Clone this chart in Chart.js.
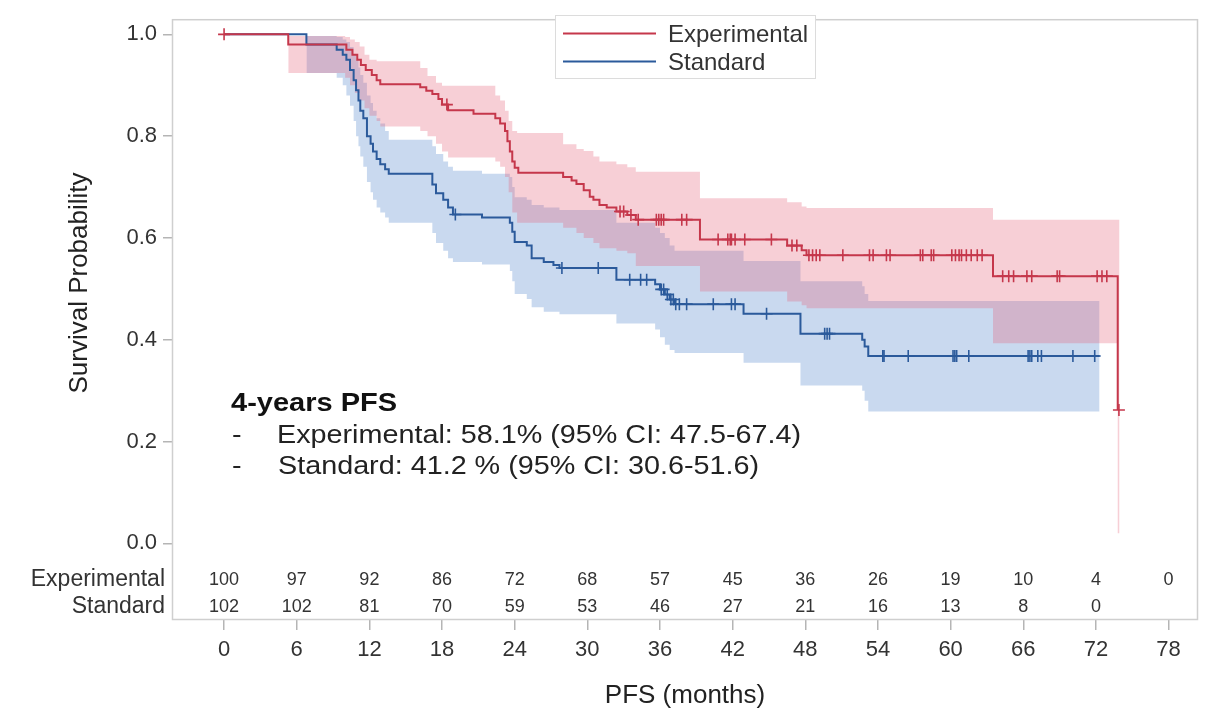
<!DOCTYPE html>
<html>
<head>
<meta charset="utf-8">
<script src="https://cdn.jsdelivr.net/npm/chart.js@4"></script>
<style>
  html, body { margin: 0; padding: 0; background: #ffffff; }
  #c { display: block; }
</style>
</head>
<body>
<canvas id="c" width="1215" height="711"></canvas>
<script>
// ---------------- DATA ----------------
const xTickValues = [0, 6, 12, 18, 24, 30, 36, 42, 48, 54, 60, 66, 72, 78];
const yTickValues = [0, 0.2, 0.4, 0.6, 0.8, 1.0];

// Experimental arm: Kaplan-Meier step function (time in months, survival after event)
const expTimes = [0, 5.3, 10.1, 10.6, 11.0, 11.3, 11.7, 12.2, 12.6, 12.9, 16.2, 16.7, 17.2, 17.7, 18.0, 18.5, 20.6, 22.4, 22.8, 23.2, 23.4, 23.6, 23.8, 24.0, 24.3, 28.0, 28.7, 29.1, 29.7, 30.2, 30.5, 31.0, 31.6, 32.4, 33.3, 34.0, 39.3, 46.5, 47.7, 48.1, 63.5, 73.8];
const expSurv  = [1.0, 0.98, 0.97, 0.96, 0.95, 0.94, 0.93, 0.92, 0.91, 0.902, 0.896, 0.889, 0.883, 0.873, 0.862, 0.851, 0.844, 0.835, 0.825, 0.81, 0.79, 0.77, 0.75, 0.738, 0.728, 0.72, 0.713, 0.706, 0.694, 0.681, 0.675, 0.665, 0.66, 0.652, 0.645, 0.636, 0.597, 0.585, 0.576, 0.566, 0.525, 0.262];
const expCensor = [0, 18.4, 32.7, 33.0, 33.6, 34.2, 35.7, 35.9, 36.1, 36.3, 37.8, 38.2, 40.8, 41.6, 41.8, 41.9, 42.2, 43.0, 45.2, 46.9, 47.3, 48.3, 48.6, 48.9, 49.2, 51.1, 53.3, 53.6, 54.7, 55.0, 57.5, 57.7, 58.4, 58.6, 60.1, 60.4, 60.7, 60.9, 61.3, 61.7, 62.2, 62.6, 64.3, 64.8, 65.2, 66.3, 66.7, 68.8, 69.0, 72.1, 72.5, 72.9, 73.9];

// Experimental 95% CI band (value holds from each time to the next)
const expBandTimes = [5.3, 10.0, 10.4, 10.8, 11.2, 11.6, 12.0, 12.6, 12.9, 16.2, 16.8, 17.5, 18.0, 18.5, 22.4, 22.8, 23.2, 23.5, 23.8, 24.2, 28.0, 29.1, 29.7, 30.5, 31.0, 32.4, 33.3, 34.0, 39.3, 46.5, 47.7, 48.1, 63.5, 73.8, 73.95];
const expLower     = [0.924, 0.915, 0.90, 0.885, 0.87, 0.855, 0.84, 0.83, 0.819, 0.81, 0.80, 0.785, 0.77, 0.758, 0.75, 0.74, 0.72, 0.69, 0.65, 0.63, 0.62, 0.61, 0.60, 0.59, 0.58, 0.575, 0.57, 0.545, 0.495, 0.475, 0.468, 0.462, 0.393, 0.02, 0.02];
const expUpper     = [0.997, 0.995, 0.99, 0.985, 0.976, 0.96, 0.95, 0.947, 0.947, 0.934, 0.918, 0.905, 0.899, 0.899, 0.88, 0.87, 0.85, 0.83, 0.81, 0.806, 0.784, 0.775, 0.771, 0.76, 0.75, 0.745, 0.739, 0.73, 0.678, 0.67, 0.662, 0.659, 0.636, 0.636, 0.636];

// Standard arm
const stdTimes = [0, 6.8, 9.3, 9.8, 10.1, 10.4, 10.7, 10.9, 11.1, 11.25, 11.5, 11.8, 12.1, 12.3, 12.6, 12.9, 13.3, 13.6, 17.2, 17.5, 18.1, 18.5, 18.9, 21.3, 23.6, 23.8, 24.0, 25.0, 25.4, 26.4, 27.2, 27.7, 32.4, 35.6, 36.0, 36.4, 36.8, 37.2, 42.9, 47.6, 52.7, 52.9, 53.2, 72.3];
const stdSurv  = [1.0, 0.98, 0.97, 0.96, 0.95, 0.93, 0.91, 0.89, 0.87, 0.85, 0.835, 0.80, 0.785, 0.77, 0.755, 0.745, 0.735, 0.726, 0.705, 0.688, 0.675, 0.66, 0.646, 0.64, 0.63, 0.612, 0.592, 0.585, 0.56, 0.553, 0.547, 0.541, 0.518, 0.509, 0.499, 0.489, 0.479, 0.470, 0.451, 0.412, 0.40, 0.387, 0.368, 0.368];
const stdCensor = [19.1, 27.9, 30.9, 33.5, 34.4, 34.9, 36.1, 36.3, 36.6, 36.9, 37.1, 37.3, 37.6, 38.2, 40.4, 41.9, 42.2, 44.8, 49.6, 49.8, 50.0, 54.4, 54.5, 56.5, 60.2, 60.35, 60.5, 61.5, 66.4, 66.55, 66.7, 67.2, 67.5, 70.1, 71.9];

const stdBandTimes = [6.8, 9.3, 9.8, 10.1, 10.4, 10.7, 10.9, 11.1, 11.25, 11.5, 11.8, 12.1, 12.3, 12.6, 12.9, 13.3, 13.6, 17.2, 17.5, 18.1, 18.5, 18.9, 21.3, 23.6, 23.8, 24.0, 25.0, 25.4, 26.4, 27.7, 32.4, 35.6, 36.0, 36.4, 36.8, 37.2, 42.9, 47.6, 52.7, 52.9, 53.2, 72.3];
const stdLower     = [0.924, 0.915, 0.90, 0.88, 0.86, 0.83, 0.80, 0.78, 0.76, 0.74, 0.71, 0.69, 0.675, 0.66, 0.65, 0.64, 0.63, 0.61, 0.59, 0.575, 0.56, 0.553, 0.548, 0.535, 0.515, 0.49, 0.48, 0.464, 0.455, 0.45, 0.432, 0.42, 0.405, 0.39, 0.38, 0.374, 0.355, 0.31, 0.30, 0.28, 0.259, 0.259];
const stdUpper     = [0.997, 0.995, 0.99, 0.985, 0.975, 0.96, 0.95, 0.935, 0.92, 0.905, 0.88, 0.865, 0.85, 0.835, 0.825, 0.81, 0.793, 0.78, 0.765, 0.75, 0.74, 0.732, 0.726, 0.72, 0.70, 0.68, 0.675, 0.665, 0.66, 0.655, 0.63, 0.62, 0.61, 0.60, 0.585, 0.575, 0.555, 0.515, 0.505, 0.49, 0.476, 0.476];

// Numbers at risk
const atRiskTimes = [0, 6, 12, 18, 24, 30, 36, 42, 48, 54, 60, 66, 72, 78];
const expAtRisk = [100, 97, 92, 86, 72, 68, 57, 45, 36, 26, 19, 10, 4, 0];
const stdAtRisk = [102, 102, 81, 70, 59, 53, 46, 27, 21, 16, 13, 8, 0];

const groupNames = ['Experimental', 'Standard'];
const pfsTitle = '4-years PFS';
const pfsLines = ['Experimental: 58.1% (95% CI: 47.5-67.4)', 'Standard: 41.2 % (95% CI: 30.6-51.6)'];

// ---------------- HELPERS ----------------
const RED = '#c5374b';
const BLUE = '#2b5a9b';
const FONT = "'Liberation Sans', Arial, Helvetica, sans-serif";

function pts(times, vals) { return times.map((t, i) => ({ x: t, y: vals[i] })); }
function survAt(times, surv, t) {
  let v = surv[0];
  for (let i = 0; i < times.length; i++) { if (times[i] <= t) v = surv[i]; }
  return v;
}
function censorPts(cens, times, surv) { return cens.map(t => ({ x: t, y: survAt(times, surv, t) })); }

function txt(ctx, s, x, y, font, color, align, sx, baseline) {
  ctx.save();
  ctx.font = font; ctx.fillStyle = color;
  ctx.textAlign = align || 'left'; ctx.textBaseline = baseline || 'alphabetic';
  ctx.translate(x, y); ctx.scale(sx || 1, 1);
  ctx.fillText(s, 0, 0);
  ctx.restore();
}

const decorPlugin = {
  id: 'decor',
  afterDraw(chart) {
    const ctx = chart.ctx;
    const a = chart.chartArea;
    const xs = chart.scales.x;
    // frame
    ctx.save();
    ctx.strokeStyle = '#cfcfcf'; ctx.lineWidth = 1.5;
    ctx.strokeRect(a.left + 0.5, a.top + 0.5, a.right - a.left - 1, a.bottom - a.top - 1);
    ctx.restore();

    // legend box
    ctx.save();
    ctx.fillStyle = '#ffffff';
    ctx.fillRect(555, 15, 260, 63);
    ctx.strokeStyle = '#dcdcdc'; ctx.lineWidth = 1;
    ctx.strokeRect(555.5, 15.5, 260, 63);
    ctx.lineWidth = 2;
    ctx.strokeStyle = RED; ctx.beginPath(); ctx.moveTo(563, 33.5); ctx.lineTo(656, 33.5); ctx.stroke();
    ctx.strokeStyle = BLUE; ctx.beginPath(); ctx.moveTo(563, 61.5); ctx.lineTo(656, 61.5); ctx.stroke();
    ctx.restore();
    txt(ctx, groupNames[0], 668, 42, '24px ' + FONT, '#333', 'left', 1);
    txt(ctx, groupNames[1], 668, 70, '24px ' + FONT, '#333', 'left', 1);

    // PFS annotation
    txt(ctx, pfsTitle, 231, 411, 'bold 25px ' + FONT, '#111', 'left', 1.16);
    txt(ctx, '-', 232, 443, '25px ' + FONT, '#222', 'left', 1.15);
    txt(ctx, pfsLines[0], 277, 443, '25px ' + FONT, '#222', 'left', 1.15);
    txt(ctx, '-', 232, 474, '25px ' + FONT, '#222', 'left', 1.15);
    txt(ctx, pfsLines[1], 278, 474, '25px ' + FONT, '#222', 'left', 1.15);

    // numbers at risk
    const rowY = [580, 607];
    [expAtRisk, stdAtRisk].forEach((row, r) => {
      row.forEach((n, i) => {
        const x = xs.getPixelForValue(atRiskTimes[i]);
        txt(ctx, String(n), x, rowY[r], '18px ' + FONT, '#333', 'center', 1, 'middle');
      });
      txt(ctx, groupNames[r], 165, rowY[r], '23px ' + FONT, '#333', 'right', 1, 'middle');
    });

    // axis titles
    txt(ctx, 'PFS (months)', (a.left + a.right) / 2, 696, '26px ' + FONT, '#222', 'center', 1, 'middle');
    ctx.save();
    ctx.translate(80, 283);
    ctx.rotate(-Math.PI / 2);
    txt(ctx, 'Survival Probability', 0, 0, '26px ' + FONT, '#222', 'center', 1, 'middle');
    ctx.restore();
  }
};

const lineBase = { showLine: true, stepped: 'before', pointRadius: 0, pointHoverRadius: 0, tension: 0 };

const chart = new Chart(document.getElementById('c'), {
  type: 'scatter',
  data: {
    datasets: [
      { label: 'Experimental censored', data: censorPts(expCensor, expTimes, expSurv), showLine: false,
        pointStyle: 'cross', pointRadius: 6, borderColor: RED, borderWidth: 1.6, backgroundColor: RED },
      { label: 'Standard censored', data: censorPts(stdCensor, stdTimes, stdSurv), showLine: false,
        pointStyle: 'cross', pointRadius: 6, borderColor: BLUE, borderWidth: 1.6, backgroundColor: BLUE },
      Object.assign({ label: 'Experimental', data: pts(expTimes, expSurv), borderColor: RED, borderWidth: 2, fill: false }, lineBase),
      Object.assign({ label: 'Standard', data: pts(stdTimes, stdSurv), borderColor: BLUE, borderWidth: 2, fill: false }, lineBase),
      Object.assign({ label: 'exp lower', data: pts(expBandTimes, expLower), borderWidth: 0, borderColor: 'rgba(0,0,0,0)', fill: false }, lineBase),
      Object.assign({ label: 'exp upper', data: pts(expBandTimes, expUpper), borderWidth: 0, borderColor: 'rgba(0,0,0,0)',
        fill: '-1', backgroundColor: 'rgba(228, 95, 120, 0.30)' }, lineBase),
      Object.assign({ label: 'std lower', data: pts(stdBandTimes, stdLower), borderWidth: 0, borderColor: 'rgba(0,0,0,0)', fill: false }, lineBase),
      Object.assign({ label: 'std upper', data: pts(stdBandTimes, stdUpper), borderWidth: 0, borderColor: 'rgba(0,0,0,0)',
        fill: '-1', backgroundColor: 'rgba(105, 150, 210, 0.36)' }, lineBase)
    ]
  },
  options: {
    responsive: false,
    animation: false,
    devicePixelRatio: 1,
    layout: { padding: { left: 0, right: 17, top: 5, bottom: 0 } },
    scales: {
      x: {
        type: 'linear', min: -4.3, max: 80.43,
        afterBuildTicks: s => { s.ticks = xTickValues.map(v => ({ value: v })); },
        afterFit: s => { s.height = 91; },
        grid: { drawOnChartArea: false, drawTicks: true, tickLength: 10, color: '#b5b5b5', lineWidth: 1.5 },
        border: { display: false },
        ticks: { font: { size: 22, family: FONT }, color: '#333', padding: 7, maxRotation: 0, autoSkip: false, callback: v => String(v) }
      },
      y: {
        type: 'linear', min: -0.1505, max: 1.0298,
        afterBuildTicks: s => { s.ticks = yTickValues.map(v => ({ value: v })); },
        afterFit: s => { s.width = 172; },
        grid: { drawOnChartArea: false, drawTicks: true, tickLength: 9, color: '#b5b5b5', lineWidth: 1.5 },
        border: { display: false },
        ticks: { font: { size: 22, family: FONT }, color: '#333', padding: 6, callback: v => Number(v).toFixed(1) }
      }
    },
    plugins: { legend: { display: false }, tooltip: { enabled: false } }
  },
  plugins: [decorPlugin]
});
</script>
</body>
</html>
